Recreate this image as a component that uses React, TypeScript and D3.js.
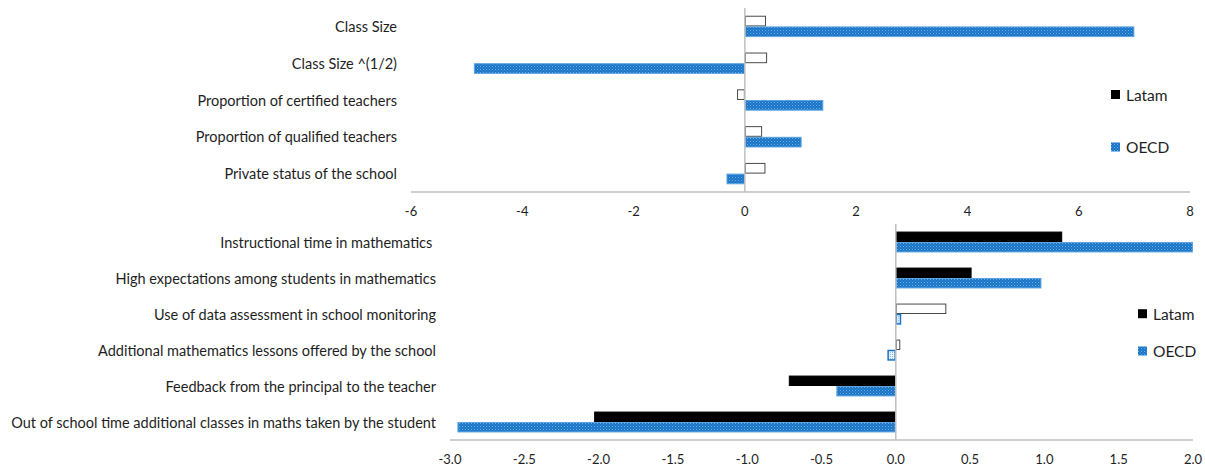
import React from "react";
import * as d3 from "d3";

// School-resource factors (upper panel)
const topCategories = [
  "Class Size",
  "Class Size ^(1/2)",
  "Proportion of certified teachers",
  "Proportion of qualified teachers",
  "Private status of the school",
];
const topLatam = [0.38, 0.4, -0.14, 0.31, 0.37];
const topOecd = [7.0, -4.87, 1.41, 1.02, -0.33];
const topLatamSignificant = [false, false, false, false, false];
const topOecdSignificant = [true, true, true, true, true];
const topTicks = [-6, -4, -2, 0, 2, 4, 6, 8];

// Instruction / practice factors (lower panel)
const bottomCategories = [
  "Instructional time in mathematics ",
  "High expectations among students in mathematics",
  "Use of data assessment in school monitoring",
  "Additional mathematics lessons offered by the school",
  "Feedback from the principal to the teacher",
  "Out of school time additional classes in maths taken by the student",
];
const bottomLatam = [1.12, 0.51, 0.34, 0.03, -0.72, -2.03];
const bottomOecd = [2.0, 0.98, 0.035, -0.055, -0.4, -2.95];
const bottomLatamSignificant = [true, true, false, false, true, true];
const bottomOecdSignificant = [true, true, false, false, true, true];
const bottomTicks = [-3, -2.5, -2, -1.5, -1, -0.5, 0, 0.5, 1, 1.5, 2];

const seriesNames = ["Latam", "OECD"];

const FONT = "Lato, 'Open Sans', sans-serif";
const TEXT = "#1e1e1e";
const AXIS = "#bfbfbf";

// d3.format emits a typographic minus; the axis uses a plain hyphen
const hyphen = (f: (v: number) => string) => (v: number) => f(v).replace("\u2212", "-");

type PanelProps = {
  categories: string[];
  latam: number[];
  oecd: number[];
  latamSig: boolean[];
  oecdSig: boolean[];
  ticks: number[];
  domain: [number, number];
  xRange: [number, number];
  yRange: [number, number];
  labelRight: number;
  tickFormat: (v: number) => string;
  legendX: number;
  legendY: [number, number];
};

function Panel(p: PanelProps) {
  const x = d3.scaleLinear().domain(p.domain).range(p.xRange);
  const y = d3
    .scaleBand<string>()
    .domain(p.categories)
    .range(p.yRange)
    .paddingInner(0.42)
    .paddingOuter(0.21);
  const sub = d3
    .scaleBand<string>()
    .domain(seriesNames)
    .range([0, y.bandwidth()]);
  const x0 = x(0);
  const axisY = p.yRange[1];

  const bar = (v: number, cat: string, series: string, sig: boolean, key: string) => {
    const y0 = (y(cat) ?? 0) + (sub(series) ?? 0);
    const h = sub.bandwidth();
    const left = Math.min(x(v), x0);
    const w = Math.abs(x(v) - x0);
    let fill: string, stroke: string, sw: number;
    if (series === "Latam") {
      fill = sig ? "#000000" : "#ffffff";
      stroke = sig ? "#000000" : "#4a4a4a";
      sw = 1;
    } else {
      fill = sig ? "url(#oecdDots)" : "url(#oecdDotsLight)";
      stroke = sig ? "#5aa3e0" : "#1b75c6";
      sw = sig ? 1 : 1.5;
    }
    return (
      <rect
        key={key}
        x={left + 0.5}
        y={y0 + 0.5}
        width={Math.max(w - 1, 1)}
        height={h - 1}
        fill={fill}
        stroke={stroke}
        strokeWidth={sw}
      />
    );
  };

  return (
    <g>
      {/* category labels */}
      {p.categories.map((c) => (
        <text
          key={c}
          x={p.labelRight}
          y={(y(c) ?? 0) + y.bandwidth() / 2}
          textAnchor="end"
          dominantBaseline="central"
          fontFamily={FONT}
          fontSize={14.5}
          fill={TEXT}
          style={{ whiteSpace: "pre" }}
        >
          {c}
        </text>
      ))}
      {/* bars */}
      {p.categories.map((c, i) => bar(p.latam[i], c, "Latam", p.latamSig[i], "l" + i))}
      {p.categories.map((c, i) => bar(p.oecd[i], c, "OECD", p.oecdSig[i], "o" + i))}
      {/* zero line */}
      <line x1={x0} x2={x0} y1={p.yRange[0]} y2={axisY} stroke={AXIS} strokeWidth={1.5} />
      {/* horizontal axis */}
      <line x1={p.xRange[0]} x2={p.xRange[1]} y1={axisY} y2={axisY} stroke={AXIS} strokeWidth={1.5} />
      {p.ticks.map((t) => (
        <text
          key={t}
          x={x(t)}
          y={axisY + 19}
          textAnchor="middle"
          dominantBaseline="central"
          fontFamily={FONT}
          fontSize={13}
          fill={TEXT}
        >
          {p.tickFormat(t)}
        </text>
      ))}
      {/* legend */}
      {seriesNames.map((s, i) => (
        <g key={s} transform={`translate(${p.legendX},${p.legendY[i]})`}>
          <rect
            x={0}
            y={-4.5}
            width={9}
            height={9}
            fill={s === "Latam" ? "#000000" : "url(#oecdDots)"}
          />
          <text
            x={15}
            y={0}
            dominantBaseline="central"
            fontFamily={FONT}
            fontSize={15.5}
            fill={TEXT}
          >
            {s}
          </text>
        </g>
      ))}
    </g>
  );
}

export default function App() {
  return (
    <svg
      width={1205}
      height={465}
      style={{ position: "absolute", left: 0, top: 0, background: "#ffffff" }}
    >
      <defs>
        <pattern id="oecdDots" patternUnits="userSpaceOnUse" width={3} height={3}>
          <rect width={3} height={3} fill="#1a74c6" />
          <rect x={0} y={0} width={1} height={1} fill="#6db0ea" />
          <rect x={1.5} y={1.5} width={1} height={1} fill="#4f9be0" />
        </pattern>
        <pattern id="oecdDotsLight" patternUnits="userSpaceOnUse" width={2} height={2}>
          <rect width={2} height={2} fill="#e8f2fb" />
          <rect x={0} y={0} width={1} height={1} fill="#8cbfea" />
        </pattern>
      </defs>
      <Panel
        categories={topCategories}
        latam={topLatam}
        oecd={topOecd}
        latamSig={topLatamSignificant}
        oecdSig={topOecdSignificant}
        ticks={topTicks}
        domain={[-6, 8]}
        xRange={[411, 1190]}
        yRange={[8, 192]}
        labelRight={397}
        tickFormat={hyphen(d3.format("d"))}
        legendX={1111}
        legendY={[94.5, 147]}
      />
      <Panel
        categories={bottomCategories}
        latam={bottomLatam}
        oecd={bottomOecd}
        latamSig={bottomLatamSignificant}
        oecdSig={bottomOecdSignificant}
        ticks={bottomTicks}
        domain={[-3, 2]}
        xRange={[450, 1193]}
        yRange={[224, 440]}
        labelRight={436}
        tickFormat={hyphen(d3.format(".1f"))}
        legendX={1138}
        legendY={[313.7, 351]}
      />
    </svg>
  );
}
